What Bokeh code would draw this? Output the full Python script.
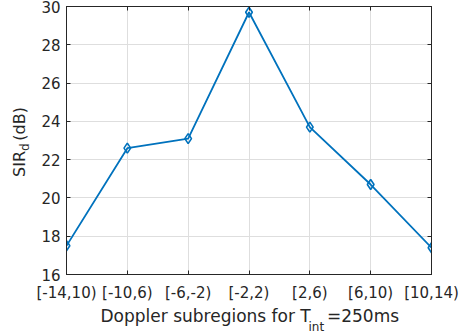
import math
from bokeh.plotting import figure
from bokeh.models import Range1d, FixedTicker, LinearAxis, Label, CustomJSTickFormatter
from bokeh.embed import file_html
from bokeh.resources import INLINE

# ---- data ----
categories = ["[-14,10)", "[-10,6)", "[-6,-2)", "[-2,2)", "[2,6)", "[6,10)", "[10,14)"]
sir_db = [17.5, 22.6, 23.1, 29.7, 23.7, 20.7, 17.4]
y_ticks = [16, 18, 20, 22, 24, 26, 28, 30]
x_label_main = "Doppler subregions for T"
x_label_sub = "int"
x_label_tail = "=250ms"
y_label_main = "SIR"
y_label_sub = "d"
y_label_tail = "(dB)"

x_pos = list(range(len(categories)))

FONT = "DejaVu Sans"
TXT = "#262626"
NB = "\u00a0"

p = figure(width=460, height=336, output_backend="svg", toolbar_location=None,
           x_range=Range1d(x_pos[0], x_pos[-1]), y_range=Range1d(y_ticks[0], y_ticks[-1]),
           min_border_left=66, min_border_right=29, min_border_top=6, min_border_bottom=62)
p.background_fill_color = "white"
p.border_fill_color = "white"
p.outline_line_color = TXT
p.outline_line_width = 1

for ax in (p.xaxis, p.yaxis):
    ax.axis_line_color = TXT
    ax.major_tick_line_color = TXT
    ax.major_tick_in = 4
    ax.major_tick_out = 0
    ax.minor_tick_line_color = None
    ax.major_label_text_font = FONT
    ax.major_label_text_font_size = "15px"
    ax.major_label_text_color = TXT

p.xaxis.ticker = FixedTicker(ticks=x_pos)
p.xaxis.major_label_overrides = {i: c for i, c in zip(x_pos, categories)}
p.xaxis.major_label_standoff = 9
p.yaxis.ticker = FixedTicker(ticks=y_ticks)
p.yaxis.major_label_standoff = 6

blank = CustomJSTickFormatter(code="return ''")
top = LinearAxis(ticker=FixedTicker(ticks=x_pos), formatter=blank, axis_line_color=TXT,
                 major_tick_line_color=TXT, major_tick_in=4, major_tick_out=0,
                 minor_tick_line_color=None, major_label_standoff=0)
right = LinearAxis(ticker=FixedTicker(ticks=y_ticks), formatter=blank, axis_line_color=TXT,
                   major_tick_line_color=TXT, major_tick_in=4, major_tick_out=0,
                   minor_tick_line_color=None, major_label_standoff=0)
p.add_layout(top, "above")
p.add_layout(right, "right")

p.xgrid.ticker = FixedTicker(ticks=x_pos)
p.ygrid.ticker = FixedTicker(ticks=y_ticks)
p.grid.grid_line_color = "#dedede"
p.grid.grid_line_width = 1

p.line(x_pos, sir_db, line_color="#0072BD", line_width=1.8)
p.scatter(x_pos, sir_db, marker="diamond", size=10, line_color="#0072BD",
          line_width=1.6, fill_color=None)

# x label: side-panel labels (not clipped), positions relative to their panels
p.add_layout(Label(x=34, y=9, x_units="screen", y_units="screen",
                   text=x_label_main + NB * 3 + x_label_tail,
                   text_font=FONT, text_font_size="17px", text_color=TXT,
                   text_align="left", text_baseline="alphabetic"), "below")
# subscript placed from the right-hand panel
p.add_layout(Label(x=-123, y=-52, x_units="screen", y_units="screen", text=x_label_sub,
                   text_font=FONT, text_font_size="12px", text_color=TXT,
                   text_align="left", text_baseline="alphabetic"), "right")

# y label (rotated)
p.add_layout(Label(x=0, y=97.6, x_units="screen", y_units="screen",
                   text=y_label_main + NB * 2 + y_label_tail,
                   angle=math.pi / 2, text_font=FONT, text_font_size="16px", text_color=TXT,
                   text_align="left", text_baseline="alphabetic"), "left")
p.add_layout(Label(x=19, y=123.6, x_units="screen", y_units="screen", text=y_label_sub,
                   angle=math.pi / 2, text_font=FONT, text_font_size="12px", text_color=TXT,
                   text_align="left", text_baseline="alphabetic"), "left")

open("out.html", "w").write(file_html(p, INLINE))
